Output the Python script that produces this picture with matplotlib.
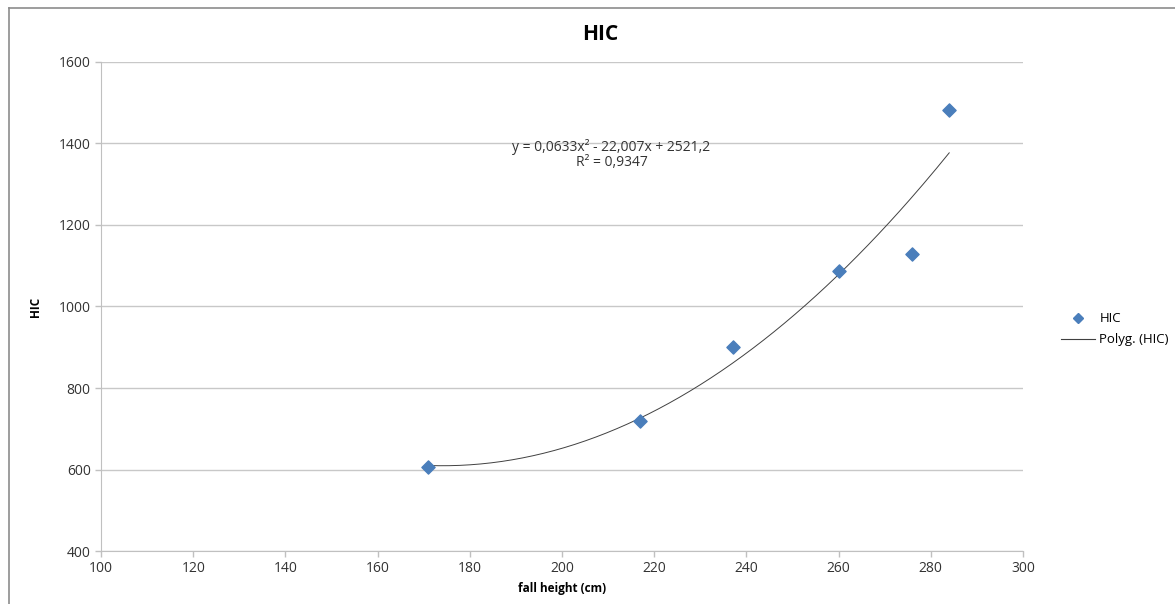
import matplotlib.pyplot as plt
import numpy as np
from matplotlib.lines import Line2D

plt.rcParams['font.family'] = ['Open Sans', 'DejaVu Sans']

# Measured values
fall_height = np.array([171, 217, 237, 260, 276, 284])  # cm
hic = np.array([606, 719, 900, 1088, 1128, 1481])

x_ticks = [100, 120, 140, 160, 180, 200, 220, 240, 260, 280, 300]
y_ticks = [400, 600, 800, 1000, 1200, 1400, 1600]

eq_text = 'y = 0,0633x² - 22,007x + 2521,2\nR² = 0,9347'

fig = plt.figure(figsize=(11.75, 6.04), dpi=100)
ax = fig.add_axes([0.086, 0.0877, 0.7846, 0.8097])

# outer chart frame (only top/left visible in the crop)
fig.add_artist(Line2D([9 / 1175, 1.2], [1 - 8 / 604] * 2, color='#8c8c8c', lw=1.2, transform=fig.transFigure))
fig.add_artist(Line2D([9 / 1175] * 2, [-0.2, 1 - 8 / 604], color='#8c8c8c', lw=1.2, transform=fig.transFigure))

# 2nd order polynomial trend line
coef = np.polyfit(fall_height, hic, 2)
xs = np.linspace(fall_height.min(), fall_height.max(), 200)
ax.plot(xs, np.polyval(coef, xs), color='#404040', lw=0.7, zorder=2)

ax.scatter(fall_height, hic, marker='D', s=45, color='#4a7ebb', edgecolors='#4a7ebb', zorder=3)

ax.set_xlim(100, 300)
ax.set_ylim(400, 1600)
ax.set_xticks(x_ticks)
ax.set_yticks(y_ticks)
ax.yaxis.grid(True, color='#c8c8c8', lw=1)
ax.set_axisbelow(True)
for s in ['top', 'right']:
    ax.spines[s].set_visible(False)
for s in ['left', 'bottom']:
    ax.spines[s].set_color('#c0c0c0')
ax.tick_params(colors='#c0c0c0', labelcolor='#333333', labelsize=10, length=4, width=1)

fig.text(600 / 1175, 1 - 34 / 604, 'HIC', fontsize=15, fontweight='bold', ha='center', va='center')
ax.set_xlabel('fall height (cm)', fontsize=8.5, fontweight='bold', labelpad=4)
ax.set_ylabel('HIC', fontsize=8.5, fontweight='bold', labelpad=12)

ax.text(0.5537, 0.81, eq_text, transform=ax.transAxes, ha='center', va='center',
        fontsize=10, color='#333333', linespacing=1.0)

handles = [
    Line2D([], [], marker='D', color='#4a7ebb', ls='none', markersize=5),
    Line2D([], [], color='#404040', lw=0.8),
]
fig.legend(handles, ['HIC', 'Polyg. (HIC)'], loc='center left', bbox_to_anchor=(0.893, 0.455),
           frameon=False, fontsize=9.5, handlelength=2.6, handletextpad=0.3, labelspacing=0.6)

fig.savefig('out.png', dpi=100)
